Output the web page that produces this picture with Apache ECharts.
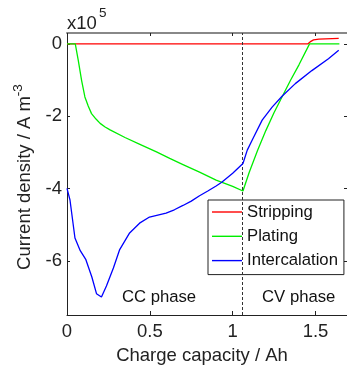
<!DOCTYPE html>
<html>
<head>
<meta charset="utf-8">
<script src="https://cdn.jsdelivr.net/npm/echarts@6/dist/echarts.min.js"></script>
<style>
html,body{margin:0;padding:0;background:#fff;}
#chart{width:347px;height:371px;}
</style>
</head>
<body>
<div id="chart"></div>
<script>
// Values are in units of 1e5 A m^-3
const strippingX = [0, 1.455, 1.472, 1.488, 1.52, 1.56, 1.64];
const strippingY = [0, 0, 0.07, 0.11, 0.13, 0.14, 0.15];

const platingX = [0, 0.05, 0.068, 0.088, 0.108, 0.128, 0.148, 0.175, 0.2, 0.23, 0.26, 0.35, 0.44, 0.54, 0.62, 0.7, 0.8, 0.9, 1.0, 1.062, 1.1, 1.15, 1.2, 1.25, 1.3, 1.35, 1.4, 1.464, 1.644];
const platingY = [0, 0, -0.46, -1.01, -1.47, -1.72, -1.93, -2.08, -2.20, -2.30, -2.38, -2.59, -2.78, -2.99, -3.17, -3.34, -3.55, -3.77, -3.94, -4.07, -3.55, -2.95, -2.40, -1.90, -1.45, -1.00, -0.58, 0, 0];

const intercalationX = [0, 0.018, 0.048, 0.08, 0.114, 0.15, 0.178, 0.208, 0.238, 0.28, 0.318, 0.378, 0.438, 0.498, 0.598, 0.648, 0.7, 0.75, 0.8, 0.85, 0.9, 0.934, 1.0, 1.062, 1.088, 1.118, 1.178, 1.238, 1.298, 1.378, 1.478, 1.578, 1.64];
const intercalationY = [-4.0, -4.32, -5.37, -5.72, -5.97, -6.45, -6.91, -7.0, -6.70, -6.20, -5.69, -5.23, -4.96, -4.79, -4.68, -4.59, -4.47, -4.35, -4.20, -4.07, -3.93, -3.83, -3.58, -3.31, -2.94, -2.66, -2.11, -1.75, -1.45, -1.10, -0.74, -0.41, -0.18];

const cvStart = 1.062;
const xTicks = [0, 0.5, 1, 1.5];
const yTicks = [0, -2, -4, -6];
const seriesNames = ['Stripping', 'Plating', 'Intercalation'];

const FONT = "'Liberation Sans', Arial, Helvetica, sans-serif";
const zip = (xs, ys) => xs.map((x, i) => [x, ys[i]]);

const chart = echarts.init(document.getElementById('chart'), null, {renderer: 'canvas'});

const xBase = {
  type: 'value', min: 0, max: 1.69,
  splitLine: {show: false}
};
const yBase = {
  type: 'value', min: -7.5, max: 0.3,
  splitLine: {show: false}
};

const option = {
  animation: false,
  backgroundColor: '#fff',
  grid: {left: 67, top: 33, width: 282, height: 282, containLabel: false},
  xAxis: [
    Object.assign({}, xBase, {
      position: 'bottom',
      axisLine: {show: true, onZero: false, lineStyle: {color: '#222', width: 1}},
      axisTick: {show: true, inside: true, length: 4, customValues: xTicks, lineStyle: {color: '#222'}},
      axisLabel: {show: true, customValues: xTicks, margin: 7, fontSize: 18.5, color: '#222', fontFamily: FONT,
        formatter: v => String(v)}
    }),
    Object.assign({}, xBase, {
      position: 'top',
      axisLine: {show: true, onZero: false, lineStyle: {color: '#888', width: 2}},
      axisTick: {show: true, inside: true, length: 3, customValues: xTicks, lineStyle: {color: '#222'}},
      axisLabel: {show: false}
    })
  ],
  yAxis: [
    Object.assign({}, yBase, {
      position: 'left',
      axisLine: {show: true, onZero: false, lineStyle: {color: '#222', width: 1}},
      axisTick: {show: true, inside: true, length: 3, customValues: yTicks, lineStyle: {color: '#222'}},
      axisLabel: {show: true, customValues: yTicks, margin: 5, fontSize: 18.5, color: '#222', fontFamily: FONT,
        formatter: v => String(v)}
    }),
    Object.assign({}, yBase, {
      position: 'right',
      axisLine: {show: true, onZero: false, lineStyle: {color: '#222', width: 1}},
      axisTick: {show: true, inside: true, length: 3, customValues: yTicks, lineStyle: {color: '#222'}},
      axisLabel: {show: false}
    })
  ],
  legend: {
    orient: 'vertical',
    left: 208, top: 200,
    data: seriesNames,
    icon: 'rect',
    itemWidth: 30, itemHeight: 1.4, itemGap: 4.3,
    padding: [2, 6, 4, 4],
    borderColor: '#222', borderWidth: 1, borderRadius: 0,
    backgroundColor: '#fff',
    textStyle: {fontSize: 16.7, color: '#111', fontFamily: FONT, lineHeight: 20},
    selectedMode: false
  },
  series: [
    {
      name: seriesNames[0], type: 'line', data: zip(strippingX, strippingY),
      symbol: 'none', smooth: false, z: 3,
      lineStyle: {color: '#ff0000', width: 1.3}, itemStyle: {color: '#ff0000'}
    },
    {
      name: seriesNames[1], type: 'line', data: zip(platingX, platingY),
      symbol: 'none', smooth: false, z: 4,
      lineStyle: {color: '#00ee00', width: 1.3}, itemStyle: {color: '#00ee00'},
      markLine: {
        silent: true, symbol: ['none', 'none'], animation: false,
        label: {show: false},
        lineStyle: {type: [3, 2], color: '#333', width: 1},
        data: [{xAxis: cvStart}]
      }
    },
    {
      name: seriesNames[2], type: 'line', data: zip(intercalationX, intercalationY),
      symbol: 'none', smooth: false, z: 5,
      lineStyle: {color: '#0000ff', width: 1.3}, itemStyle: {color: '#0000ff'}
    }
  ],
  graphic: [
    {type: 'text', left: 67, top: 14, style: {text: 'x10', fontSize: 18.5, fill: '#222', fontFamily: FONT}},
    {type: 'text', left: 99, top: 6.5, style: {text: '5', fontSize: 13.5, fill: '#222', fontFamily: FONT}},
    {type: 'text', x: 159, y: 297, style: {text: 'CC phase', fontSize: 16.7, fill: '#111', fontFamily: FONT, align: 'center', verticalAlign: 'middle'}},
    {type: 'text', x: 298.7, y: 297, style: {text: 'CV phase', fontSize: 16.7, fill: '#111', fontFamily: FONT, align: 'center', verticalAlign: 'middle'}},
    {type: 'text', x: 202, y: 356, style: {text: 'Charge capacity / Ah', fontSize: 18.5, fill: '#222', fontFamily: FONT, align: 'center', verticalAlign: 'middle'}},
    {type: 'text', x: 25, y: 177, rotation: Math.PI / 2,
      style: {
        text: 'Current density / A m{sup|-3}',
        fontSize: 18.5, fill: '#222', fontFamily: FONT, align: 'center', verticalAlign: 'middle',
        rich: {sup: {fontSize: 13.5, fontFamily: FONT, fill: '#222', padding: [0, 0, 14, 0]}}
      }}
  ]
};
chart.setOption(option);
</script>
</body>
</html>
